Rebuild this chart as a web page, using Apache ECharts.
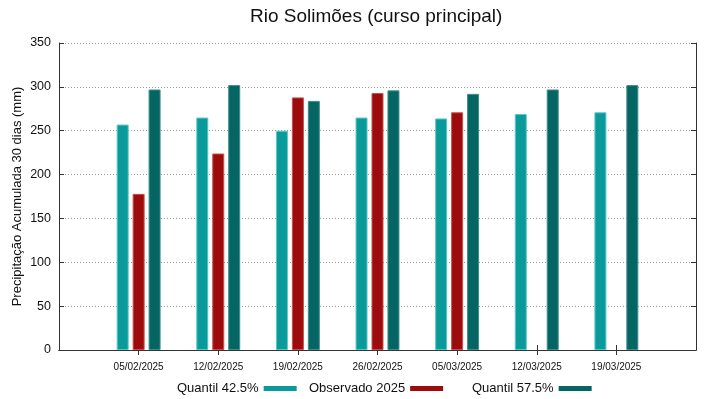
<!DOCTYPE html>
<html>
<head>
<meta charset="utf-8">
<script src="https://cdn.jsdelivr.net/npm/echarts@6/dist/echarts.min.js"></script>
<style>html,body{margin:0;padding:0;background:#fff}#c{width:719px;height:399px}</style>
</head>
<body>
<div id="c"></div>
<script>
const categories = ['05/02/2025','12/02/2025','19/02/2025','26/02/2025','05/03/2025','12/03/2025','19/03/2025'];
const quantil425 = [257, 265, 250, 265, 264, 269, 271];
const observado2025 = [178, 224, 288, 293, 271, null, null];
const quantil575 = [297, 302, 284, 296, 292, 297, 302];
const yTicks = [0, 50, 100, 150, 200, 250, 300, 350];

const pad = v => [null].concat(v, [null]);
const cats = [''].concat(categories, ['']);
const FONT = 'Liberation Sans, Arial, sans-serif';
const inner = (i) => i > 0 && i < cats.length - 1;

const chart = echarts.init(document.getElementById('c'), null, {renderer: 'canvas'});
function legendAt(name, left) {
  return {
    data: [name], left: left, top: 382, align: 'right', itemWidth: 33, itemHeight: 5,
    itemGap: 0, itemTextGap: 7, icon: 'rect', padding: 0,
    itemStyle: {borderWidth: 0},
    textStyle: {fontFamily: FONT, fontSize: 13, color: '#111'}
  };
}
function barSeries(name, data, color, border) {
  return {
    name: name, type: 'bar', data: pad(data), barWidth: 12, barGap: '33%',
    itemStyle: {color: color, borderColor: border, borderWidth: 1},
    emphasis: {disabled: true}
  };
}
chart.setOption({
  animation: false,
  title: {
    text: 'Rio Solimões (curso principal)', left: 250, top: 7, padding: 0,
    textStyle: {fontFamily: FONT, fontSize: 19, fontWeight: 'normal', color: '#111'}
  },
  legend: [legendAt('Quantil 42.5%', 177), legendAt('Observado 2025', 309), legendAt('Quantil 57.5%', 472)],
  grid: {left: 59, right: 23, top: 43, bottom: 49, outerBoundsMode: 'none'},
  xAxis: [{
    type: 'category', data: cats, boundaryGap: false,
    axisLine: {lineStyle: {color: '#333', width: 1}},
    axisTick: {inside: true, length: 5, interval: inner, lineStyle: {color: '#333'}},
    axisLabel: {fontFamily: FONT, fontSize: 10, color: '#111', margin: 12, interval: 0},
    splitLine: {show: false}
  }, {
    type: 'category', data: cats, boundaryGap: false, position: 'top',
    axisLine: {lineStyle: {color: '#333', width: 1}},
    axisTick: {inside: true, length: 5, interval: inner, lineStyle: {color: '#333'}},
    axisLabel: {show: false}, splitLine: {show: false}
  }],
  yAxis: [{
    type: 'value', min: yTicks[0], max: yTicks[yTicks.length - 1], interval: 50,
    name: 'Precipitação Acumulada 30 dias (mm)', nameLocation: 'middle', nameGap: 35,
    nameMoveOverlap: false,
    nameTextStyle: {fontFamily: FONT, fontSize: 13, color: '#111'},
    axisLine: {show: true, lineStyle: {color: '#333', width: 1}},
    axisTick: {show: true, inside: true, length: 5, lineStyle: {color: '#333'}},
    axisLabel: {fontFamily: FONT, fontSize: 12.5, color: '#111', margin: 8},
    splitLine: {show: true, lineStyle: {color: '#999', type: [1, 2], width: 1}}
  }, {
    type: 'value', min: yTicks[0], max: yTicks[yTicks.length - 1], interval: 50, position: 'right',
    axisLine: {show: true, lineStyle: {color: '#333', width: 1}},
    axisTick: {show: true, inside: true, length: 5, lineStyle: {color: '#333'}},
    axisLabel: {show: false}, splitLine: {show: false}
  }],
  series: [
    barSeries('Quantil 42.5%', quantil425, '#0a9a9a', '#5cc8c8'),
    barSeries('Observado 2025', observado2025, '#9c0c0c', '#c85050'),
    barSeries('Quantil 57.5%', quantil575, '#056563', '#3f8f8d')
  ]
});
</script>
</body>
</html>
